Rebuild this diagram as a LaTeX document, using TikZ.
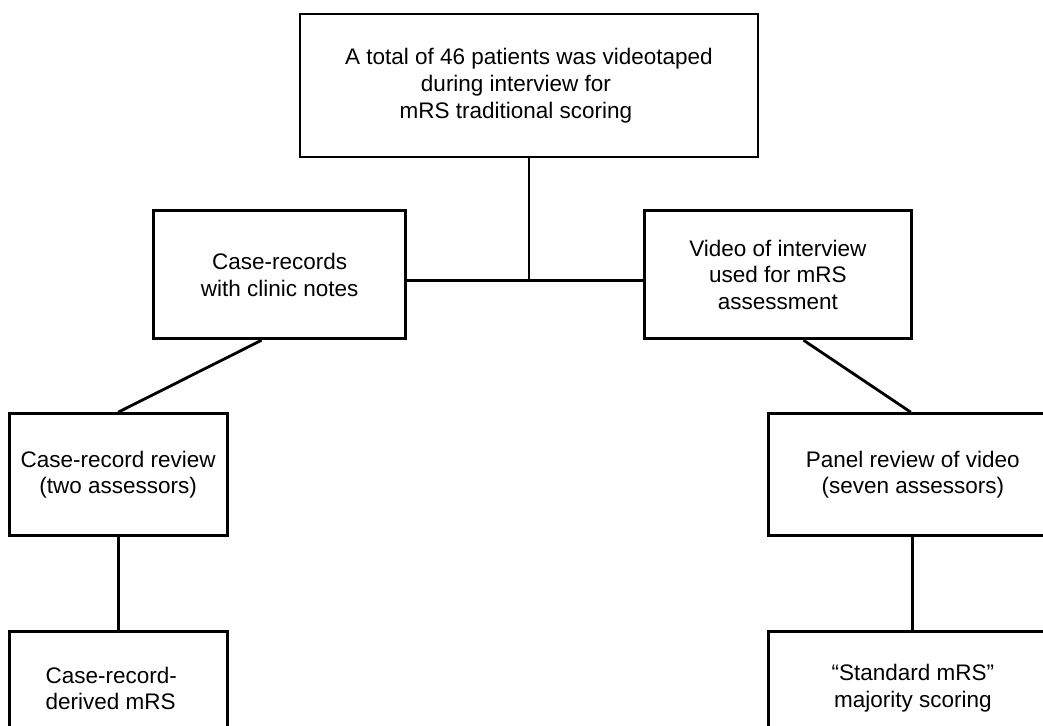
\documentclass[tikz,border=0pt]{standalone}
\usepackage{fontspec}
\setmainfont{Liberation Sans}
\usepackage{tikz}
\usetikzlibrary{positioning}
\tikzset{
  pbox/.style={draw=black, line width=2pt, align=center, inner sep=2pt,
    font=\fontsize{16pt}{19pt}\selectfont, text=black},
  link/.style={draw=black, line width=2pt}
}

\begin{document}
\begin{tikzpicture}
\useasboundingbox[fill=white] (0,0) rectangle (26.075,-18.125);
\clip (0,0) rectangle (26.075,-18.125);
\node[pbox, minimum width=11.45cm, minimum height=3.575cm] (top) at (13.225,-2.1375) {A total of 46 patients was videotaped\\during interview for\makebox[0.65cm]{}\\mRS traditional scoring\makebox[0.65cm]{}};
\node[pbox, minimum width=6.3cm, minimum height=3.2cm, below left=1.275cm and 3.05cm of top.south] (case) {Case-records\\with clinic notes};
\node[pbox, minimum width=6.675cm, minimum height=3.2cm, below right=1.275cm and 2.85cm of top.south] (video) {Video of interview\\used for mRS\\assessment};
\node[pbox, minimum width=5.45cm, minimum height=3.05cm, below left=1.8cm and 1.275cm of case.south] (review) {Case-record review\\(two assessors)};
\node[pbox, minimum width=7.2cm, minimum height=3.05cm, below=1.8cm of video.south east] (panel) {Panel review of video\\(seven assessors)};
\node[pbox, minimum width=5.45cm, minimum height=2.85cm, below=2.325cm of review, align=left] (derived) {Case-record-\makebox[0.35cm]{}\\derived mRS\makebox[0.35cm]{}};
\node[pbox, minimum width=7.2cm, minimum height=2.85cm, below=2.325cm of panel] (standard) {``Standard mRS''\\majority scoring};
\coordinate[below=3.05cm of top.south] (junc);
\draw[link] (top.south) -- (junc);
\draw[link] (case.east |- junc) -- (video.west |- junc);
\draw[link] ([xshift=-0.45cm]case.south) -- (review.north);
\draw[link] ([xshift=0.64cm]video.south) -- ([xshift=-0.05cm]panel.north);
\draw[link] (review) -- (derived);
\draw[link] (panel) -- (standard);
\end{tikzpicture}
\end{document}
